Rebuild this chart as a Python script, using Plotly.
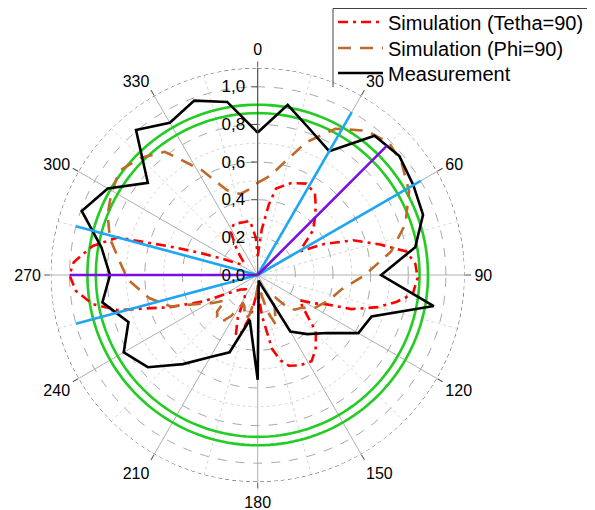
import plotly.graph_objects as go

# ---------------- data ----------------
meas_theta = list(range(0, 360, 10))
meas_r = [0.757, 0.918, 0.82, 0.76, 0.966, 0.983, 0.955, 0.935, 0.85, 0.656,
          0.95, 0.644, 0.618, 0.48, 0.41, 0.347, 0.06, 0.03, 0.557, 0.243,
          0.437, 0.503, 0.618, 0.762, 0.822, 0.731, 0.838, 0.785, 0.843, 0.995,
          0.92, 0.762, 1.006, 0.934, 0.986, 0.934]

tetha_theta = [0, 5, 9, 12, 20, 28, 35, 40, 45, 51, 57, 61, 65, 70, 76, 81, 86, 91, 97,
               101, 105, 110, 113, 117, 121, 125, 130, 134, 142, 148, 155, 161, 165, 169,
               171, 174, 178, 185, 190, 196, 200, 205, 210, 220, 230, 238, 244, 250, 256,
               260, 265, 270, 274, 280, 285, 288, 291, 296, 303, 312, 320, 328, 335, 345,
               352, 357, 360]
tetha_r = [0.10, 0.24, 0.38, 0.47, 0.52, 0.55, 0.53, 0.48, 0.43, 0.38, 0.29, 0.26, 0.39,
           0.54, 0.67, 0.80, 0.84, 0.85, 0.83, 0.75, 0.66, 0.53, 0.40, 0.33, 0.26, 0.29,
           0.35, 0.43, 0.50, 0.54, 0.53, 0.51, 0.47, 0.40, 0.30, 0.22, 0.10, 0.12, 0.22,
           0.32, 0.34, 0.25, 0.14, 0.10, 0.12, 0.18, 0.32, 0.50, 0.77, 0.89, 0.97, 1.00,
           0.98, 0.89, 0.77, 0.49, 0.33, 0.18, 0.10, 0.10, 0.17, 0.27, 0.30, 0.29, 0.29,
           0.20, 0.10]

phi_theta = [0, 7, 13, 20, 28, 37, 45, 52, 61, 71, 80, 90, 100, 110, 120, 127, 133, 138,
             142, 147, 153, 160, 165, 170, 178, 185, 192, 197, 203, 207, 213, 218, 224,
             228, 232, 238, 244, 250, 258, 268, 276, 284, 292, 299, 307, 315, 323, 332,
             340, 348, 355, 360]
phi_r = [0.49, 0.53, 0.61, 0.75, 0.88, 0.96, 0.99, 0.97, 0.92, 0.83, 0.72, 0.57, 0.45,
         0.40, 0.35, 0.29, 0.27, 0.22, 0.15, 0.14, 0.20, 0.28, 0.20, 0.10, 0.05, 0.12,
         0.22, 0.24, 0.18, 0.17, 0.26, 0.32, 0.31, 0.29, 0.22, 0.28, 0.35, 0.49, 0.59,
         0.69, 0.74, 0.81, 0.86, 0.89, 0.92, 0.88, 0.82, 0.63, 0.48, 0.44, 0.46, 0.49]

green_r = [0.86, 0.905]
blue_angles = [30, 60, 255, 285]
blue_len = [1.0, 1.0, 1.0, 1.0]
purple_angles = [45, 270]
purple_len = [0.97, 1.0]

r_minor = [0.1, 0.3, 0.5, 0.7, 0.9]
r_max = 1.1
ang_major = list(range(0, 360, 30))
ang_minor = list(range(15, 360, 30))
radial_ticks = [0.0, 0.2, 0.4, 0.6, 0.8, 1.0]
radial_text = ["0,0", "0,2", "0,4", "0,6", "0,8", "1,0"]

FONT = "Liberation Sans, Arial, sans-serif"
full_circle = list(range(0, 361, 2))

fig = go.Figure()

# decorative grid (minor circles / spokes, outer dashed border)
for rv in r_minor:
    fig.add_trace(go.Scatterpolar(theta=full_circle, r=[rv] * len(full_circle), mode="lines",
                                  line=dict(color="#cccccc", width=0.8, dash="dot"),
                                  showlegend=False, hoverinfo="skip"))
for a in ang_minor:
    fig.add_trace(go.Scatterpolar(theta=[a, a], r=[0, r_max], mode="lines",
                                  line=dict(color="#cccccc", width=0.8, dash="dot"),
                                  showlegend=False, hoverinfo="skip"))
fig.add_trace(go.Scatterpolar(theta=full_circle, r=[r_max] * len(full_circle), mode="lines",
                              line=dict(color="#444444", width=1, dash="4px,3px"),
                              showlegend=False, hoverinfo="skip", cliponaxis=False))

# green circles
for gr in green_r:
    fig.add_trace(go.Scatterpolar(theta=full_circle, r=[gr] * len(full_circle), mode="lines",
                                  line=dict(color="#22cc22", width=2.6),
                                  showlegend=False, hoverinfo="skip"))

# data series
fig.add_trace(go.Scatterpolar(theta=tetha_theta, r=tetha_r, mode="lines",
                              name="Simulation (Tetha=90)", legend="legend",
                              line=dict(color="#ff0000", width=2.6, dash="10px,5px,3px,5px")))
fig.add_trace(go.Scatterpolar(theta=phi_theta, r=phi_r, mode="lines",
                              name="Simulation (Phi=90)", legend="legend2",
                              line=dict(color="#bf6a2a", width=2.6, dash="13px,9px")))
fig.add_trace(go.Scatterpolar(theta=meas_theta + [meas_theta[0]], r=meas_r + [meas_r[0]],
                              mode="lines", name="Measurement", legend="legend3",
                              line=dict(color="#000000", width=2.6)))

# blue and purple spokes
for a, L in zip(blue_angles, blue_len):
    fig.add_trace(go.Scatterpolar(theta=[a, a], r=[0, L], mode="lines",
                                  line=dict(color="#1ea6f2", width=2.6),
                                  showlegend=False, hoverinfo="skip"))
for a, L in zip(purple_angles, purple_len):
    fig.add_trace(go.Scatterpolar(theta=[a, a], r=[0, L], mode="lines",
                                  line=dict(color="#7a0fe0", width=2.6),
                                  showlegend=False, hoverinfo="skip"))

# page body has an 8px margin: work in figure pixels
OFF = 8
W, H = 595 - OFF, 510 - OFF
cx, cy, R = 257.7 - OFF, 275.0 - OFF, 207.0


def px(x):
    return (x - OFF) / W


def py(y):
    return 1 - (y - OFF) / H


leg_common = dict(xanchor="left", yanchor="middle", bgcolor="rgba(0,0,0,0)",
                  borderwidth=0, itemwidth=45,
                  font=dict(size=20, family=FONT, color="black"))

fig.update_layout(
    width=W, height=H,
    margin=dict(l=0, r=0, t=0, b=0, autoexpand=False),
    paper_bgcolor="white",
    font=dict(family=FONT, size=16, color="black"),
    polar=dict(
        domain=dict(x=[(cx - R) / W, (cx + R) / W], y=[(H - cy - R) / H, (H - cy + R) / H]),
        bgcolor="white",
        angularaxis=dict(rotation=90, direction="clockwise",
                         tickmode="array", tickvals=ang_major,
                         ticktext=[str(a) for a in ang_major],
                         showline=False, ticks="outside", ticklen=6, tickcolor="#555555",
                         gridcolor="#b0b0b0", gridwidth=0.8,
                         tickfont=dict(size=16, family=FONT, color="black")),
        radialaxis=dict(range=[0, r_max], angle=90, side="counterclockwise", tickangle=90,
                        tickmode="array", tickvals=radial_ticks, ticktext=radial_text,
                        showline=True, linecolor="#444444", linewidth=1,
                        ticks="outside", ticklen=6, tickcolor="#444444",
                        gridcolor="#a8a8a8", gridwidth=0.8, griddash="dash",
                        tickfont=dict(size=17, family=FONT, color="black")),
    ),
    legend=dict(x=px(333), y=py(22), **leg_common),
    legend2=dict(x=px(333), y=py(48), **leg_common),
    legend3=dict(x=px(333), y=py(73), **leg_common),
    shapes=[
        dict(type="line", xref="paper", yref="paper", x0=px(333), x1=1.0,
             y0=py(8.5), y1=py(8.5), line=dict(color="#444444", width=1)),
        dict(type="line", xref="paper", yref="paper", x0=px(333), x1=px(333),
             y0=py(8.5), y1=py(87), line=dict(color="#444444", width=1)),
    ],
)

fig.write_html("out.html")
